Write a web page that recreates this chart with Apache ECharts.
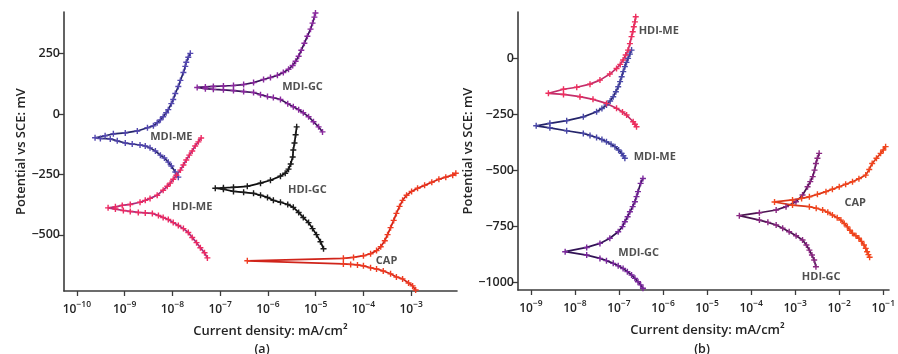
<!DOCTYPE html>
<html>
<head>
<meta charset="utf-8">
<script src="https://cdn.jsdelivr.net/npm/echarts@6/dist/echarts.min.js"></script>
<style>
  html, body { margin: 0; padding: 0; background: #fff; }
  #chart { width: 898px; height: 354px; }
</style>
</head>
<body>
<div id="chart"></div>
<script>
// Potentiodynamic polarization (Tafel) curves: potential (mV vs SCE) against current density (mA/cm²).
// Every curve runs from the end of its cathodic branch, through Ecorr, to the end of its anodic branch.

// Axis ticks
const decadesA = [-10, -9, -8, -7, -6, -5, -4, -3];
const decadesB = [-9, -8, -7, -6, -5, -4, -3, -2, -1];
const potentialTicksA = [250, 0, -250, -500];
const potentialTicksB = [0, -250, -500, -750, -1000];

// ---------- Panel (a) ----------
const aMdiMeCurrent = [1.33e-8, 1.15e-8, 9.5e-9, 8.2e-9, 6.8e-9, 5.6e-9, 4.4e-9, 3.4e-9, 2.7e-9, 2.1e-9, 1.44e-9, 1.03e-9, 7.0e-10, 5.0e-10, 3.1e-10, 2.4e-10,
  3.9e-10, 5.8e-10, 1.03e-9, 1.84e-9, 3.0e-9, 4.0e-9, 4.8e-9, 5.6e-9, 6.4e-9, 7.4e-9, 8.2e-9, 9.5e-9, 1.04e-8, 1.15e-8, 1.33e-8, 1.47e-8, 1.7e-8, 1.86e-8, 1.95e-8, 2.15e-8, 2.37e-8];
const aMdiMePotential = [-261, -240, -215, -199, -182, -170, -153, -140, -132, -128, -124, -120, -111, -103, -101, -98,
  -90, -82, -78, -70, -57, -49, -36, -24, -11, 5, 18, 43, 60, 85, 114, 139, 172, 197, 214, 235, 251];

const aHdiMeCurrent = [5.4e-8, 4.7e-8, 3.85e-8, 3.2e-8, 2.6e-8, 2.15e-8, 1.7e-8, 1.33e-8, 1.04e-8, 8.2e-9, 6.4e-9, 5.1e-9, 3.8e-9, 2.7e-9, 1.93e-9, 1.31e-9, 9.4e-10, 6.4e-10, 4.5e-10,
  6.4e-10, 8.9e-10, 1.31e-9, 2.1e-9, 2.7e-9, 3.4e-9, 4.8e-9, 6.4e-9, 7.8e-9, 9.0e-9, 1.04e-8, 1.21e-8, 1.47e-8, 1.7e-8, 1.95e-8, 2.26e-8, 2.6e-8, 3.0e-8, 3.5e-8, 4.0e-8];
const aHdiMePotential = [-595, -574, -553, -532, -511, -490, -474, -461, -449, -436, -428, -420, -411, -409, -407, -403, -399, -393, -388,
  -384, -378, -374, -365, -357, -349, -336, -315, -299, -286, -270, -253, -232, -211, -190, -170, -153, -132, -115, -99];

const aMdiGcCurrent = [1.39e-5, 1.15e-5, 9.0e-6, 7.1e-6, 5.5e-6, 4.4e-6, 3.4e-6, 2.6e-6, 1.83e-6, 1.3e-6, 9.8e-7, 7.0e-7, 5.0e-7, 3.1e-7, 1.9e-7, 1.17e-7, 7.2e-8, 4.9e-8, 3.3e-8,
  4.9e-8, 7.2e-8, 1.17e-7, 1.9e-7, 3.1e-7, 5.0e-7, 8.1e-7, 1.13e-6, 1.58e-6, 2.1e-6, 2.7e-6, 3.3e-6, 3.8e-6, 4.4e-6, 5.0e-6, 5.8e-6, 6.7e-6, 7.8e-6, 8.6e-6, 9.4e-6, 9.9e-6];
const aMdiGcPotential = [-74, -53, -32, -11, 5, 18, 30, 43, 60, 68, 72, 80, 89, 93, 97, 100, 102, 105, 110,
  112, 114, 116, 118, 122, 130, 143, 151, 160, 172, 185, 201, 218, 239, 264, 293, 322, 351, 376, 401, 418];

const aHdiGcCurrent = [1.46e-5, 1.26e-5, 1.04e-5, 8.6e-6, 7.1e-6, 5.5e-6, 4.4e-6, 3.4e-6, 2.6e-6, 1.83e-6, 1.3e-6, 9.8e-7, 7.0e-7, 5.0e-7, 3.1e-7, 1.9e-7, 1.17e-7, 7.9e-8,
  1.17e-7, 1.9e-7, 3.7e-7, 7.0e-7, 1.13e-6, 1.83e-6, 2.3e-6, 2.7e-6, 3.0e-6, 3.3e-6, 3.4e-6, 3.6e-6, 3.8e-6, 4.0e-6];
const aHdiGcPotential = [-557, -528, -499, -474, -449, -428, -407, -386, -374, -365, -357, -345, -336, -328, -324, -320, -311, -307,
  -305, -303, -299, -286, -274, -257, -245, -228, -207, -178, -149, -120, -86, -53];

const aCapCurrent = [1.24e-3, 1.07e-3, 8.8e-4, 6.6e-4, 4.9e-4, 3.7e-4, 2.6e-4, 1.88e-4, 1.41e-4, 1.0e-4, 7.5e-5, 5.4e-5, 3.8e-5, 3.7e-7,
  3.8e-5, 6.2e-5, 1.0e-4, 1.41e-4, 1.88e-4, 2.3e-4, 2.8e-4, 3.2e-4, 3.7e-4, 4.3e-4, 4.9e-4, 5.7e-4, 6.6e-4, 8.0e-4, 1.02e-3, 1.36e-3, 1.91e-3, 2.7e-3, 3.8e-3, 5.3e-3, 7.4e-3, 8.6e-3];
const aCapPotential = [-728, -711, -699, -682, -674, -661, -649, -641, -636, -628, -624, -622, -620, -607,
  -597, -593, -586, -578, -565, -549, -524, -499, -470, -440, -411, -382, -357, -336, -320, -307, -295, -282, -270, -261, -253, -245];

const aLabelNames = ['MDI-ME', 'MDI-GC', 'HDI-GC', 'HDI-ME', 'CAP'];
const aLabelCurrent = [9.5e-9, 5.3e-6, 6.7e-6, 2.6e-8, 3.05e-4];
const aLabelPotential = [-95, 114, -315, -386, -607];

// ---------- Panel (b) ----------
const bHdiMeCurrent = [2.5e-7, 2.3e-7, 2.1e-7, 1.49e-7, 1.2e-7, 8.8e-8, 5.2e-8, 2.57e-8, 1.3e-8, 5.5e-9, 2.5e-9,
  5.5e-9, 1.1e-8, 2.2e-8, 3.7e-8, 6.2e-8, 8.8e-8, 1.07e-7, 1.24e-7, 1.42e-7, 1.61e-7, 1.77e-7, 1.93e-7, 2.05e-7, 2.17e-7, 2.3e-7, 2.4e-7];
const bHdiMePotential = [-306, -295, -284, -254, -240, -224, -202, -184, -172, -162, -157,
  -139, -130, -116, -98, -71, -46, -28, -8, 14, 36, 65, 96, 118, 140, 162, 185];

const bMdiMeCurrent = [1.36e-7, 1.26e-7, 1.15e-7, 9.8e-8, 8.1e-8, 6.6e-8, 5.2e-8, 4.1e-8, 3.1e-8, 2.2e-8, 1.55e-8, 6.5e-9, 2.7e-9, 1.32e-9,
  2.7e-9, 6.5e-9, 1.55e-8, 3.1e-8, 4.1e-8, 5.2e-8, 6.3e-8, 7.4e-8, 8.5e-8, 9.6e-8, 1.06e-7, 1.15e-7, 1.25e-7, 1.36e-7, 1.48e-7, 1.61e-7, 1.77e-7, 1.93e-7];
const bMdiMePotential = [-447, -436, -425, -410, -395, -384, -373, -363, -354, -345, -336, -324, -311, -302,
  -291, -279, -262, -239, -225, -209, -191, -172, -150, -128, -105, -83, -60, -38, -19, -1, 18, 36];

const bMdiGcCurrent = [3.5e-7, 3.1e-7, 2.7e-7, 2.3e-7, 1.93e-7, 1.55e-7, 1.24e-7, 9.6e-8, 7.4e-8, 5.2e-8, 3.7e-8, 1.85e-8, 6.0e-9,
  1.85e-8, 3.7e-8, 6.2e-8, 9.6e-8, 1.2e-7, 1.36e-7, 1.57e-7, 1.77e-7, 2.05e-7, 2.3e-7, 2.5e-7, 2.7e-7, 3.1e-7, 3.5e-7];
const bMdiGcPotential = [-1027, -1012, -998, -983, -968, -953, -939, -927, -916, -904, -894, -879, -864,
  -845, -827, -804, -775, -752, -730, -708, -686, -663, -641, -618, -596, -559, -537];

const bHdiGcCurrent = [2.96e-3, 2.7e-3, 2.4e-3, 2.1e-3, 1.8e-3, 1.47e-3, 1.05e-3, 7.3e-4, 5.2e-4, 3.7e-4, 2.4e-4, 1.54e-4, 5.4e-5,
  1.54e-4, 3.7e-4, 6.2e-4, 1.04e-3, 1.47e-3, 1.91e-3, 2.2e-3, 2.5e-3, 2.75e-3, 2.96e-3, 3.2e-3, 3.5e-3];
const bHdiGcPotential = [-931, -901, -879, -857, -834, -812, -793, -775, -759, -745, -733, -723, -703,
  -690, -678, -663, -641, -611, -574, -551, -529, -500, -470, -447, -425];

const bCapCurrent = [4.9e-2, 4.6e-2, 4.3e-2, 4.0e-2, 3.65e-2, 3.2e-2, 2.8e-2, 2.4e-2, 2.0e-2, 1.75e-2, 1.53e-2, 1.3e-2, 1.09e-2, 9.0e-3, 7.0e-3, 5.5e-3, 4.2e-3, 3.0e-3, 2.1e-3, 8.7e-4, 3.4e-4,
  8.7e-4, 1.4e-3, 2.1e-3, 3.2e-3, 5.0e-3, 7.0e-3, 1.0e-2, 1.4e-2, 2.0e-2, 2.8e-2, 4.0e-2, 4.8e-2, 5.6e-2, 7.0e-2, 8.7e-2, 1.0e-1, 0.113];
const bCapPotential = [-889, -877, -864, -849, -834, -818, -804, -793, -782, -768, -753, -738, -723, -712, -700, -688, -678, -670, -663, -656, -642,
  -633, -626, -619, -608, -596, -585, -574, -563, -552, -538, -522, -497, -470, -447, -425, -410, -395];

const bLabelNames = ['HDI-ME', 'MDI-ME', 'MDI-GC', 'HDI-GC', 'CAP'];
const bLabelCurrent = [8.0e-7, 6.5e-7, 2.8e-7, 3.9e-3, 2.3e-2];
const bLabelPotential = [121, -441, -870, -977, -647];

// ---------- Chart ----------
const FONT = '"Open Sans", "DejaVu Sans", sans-serif';
const AXIS_COLOR = '#3c3c3c';
const TEXT_COLOR = '#242424';
const TICK_MARK = 'path://M0,3H6M3,0V6';

const pairs = (cur, pot) => cur.map((c, i) => [c, pot[i]]);
const minus = v => (v < 0 ? '\u2212' + (-v) : String(v));

function curve(name, cur, pot, panel, lineColor, markColor) {
  return {
    type: 'line', name,
    xAxisIndex: panel, yAxisIndex: panel,
    data: pairs(cur, pot),
    symbol: TICK_MARK, symbolSize: 6, showSymbol: true, showAllSymbol: true,
    lineStyle: { color: lineColor, width: 1.7 },
    itemStyle: { color: 'rgba(0,0,0,0)', borderColor: markColor, borderWidth: 1.4 },
    emphasis: { disabled: true },
    silent: true, animation: false
  };
}

function curveLabels(names, cur, pot, panel) {
  return {
    type: 'scatter', xAxisIndex: panel, yAxisIndex: panel,
    symbolSize: 0, silent: true, animation: false, z: 5,
    data: names.map((n, i) => ({ name: n, value: [cur[i], pot[i]] })),
    label: {
      show: true, position: 'inside', formatter: '{b}',
      fontFamily: FONT, fontSize: 11, fontWeight: 'bold', color: TEXT_COLOR
    }
  };
}

function currentAxis(panel, min, max, decades, padLeft) {
  const vals = decades.map(e => Math.pow(10, e));
  return {
    type: 'log', logBase: 10, gridIndex: panel, min, max,
    axisLine: { show: true, onZero: false, lineStyle: { color: AXIS_COLOR, width: 1.6 } },
    axisTick: { show: true, customValues: vals, length: 5, lineStyle: { color: AXIS_COLOR, width: 1.3 } },
    splitLine: { show: false },
    minorTick: { show: false },
    axisLabel: {
      customValues: vals, margin: 9,
      formatter: v => '{b|10}{s|' + minus(Math.round(Math.log10(v))) + '}',
      rich: {
        b: { fontFamily: FONT, fontSize: 12, fontWeight: 600, color: TEXT_COLOR, lineHeight: 16, verticalAlign: 'bottom' },
        s: { fontFamily: FONT, fontSize: 8.5, fontWeight: 600, color: TEXT_COLOR, lineHeight: 16, verticalAlign: 'top' }
      }
    },
    name: 'Current density: mA/cm\u00B2', nameLocation: 'middle', nameGap: 34,
    nameTextStyle: { fontFamily: FONT, fontSize: 13, fontWeight: 600, color: TEXT_COLOR, padding: [0, 0, 0, padLeft] }
  };
}

function potentialAxis(panel, min, max, ticks, gap) {
  return {
    type: 'value', gridIndex: panel, min, max,
    axisLine: { show: true, onZero: false, lineStyle: { color: AXIS_COLOR, width: 1.6 } },
    axisTick: { show: true, customValues: ticks, length: 5, lineStyle: { color: AXIS_COLOR, width: 1.3 } },
    splitLine: { show: false },
    axisLabel: {
      customValues: ticks, margin: 4, formatter: minus,
      fontFamily: FONT, fontSize: 12.5, fontWeight: 600, color: TEXT_COLOR
    },
    name: 'Potential vs SCE: mV', nameLocation: 'middle', nameRotate: 90, nameGap: gap,
    nameTextStyle: { fontFamily: FONT, fontSize: 13, fontWeight: 600, color: TEXT_COLOR }
  };
}

const chart = echarts.init(document.getElementById('chart'), null, { renderer: 'canvas' });
chart.setOption({
  backgroundColor: '#ffffff',
  animation: false,
  grid: [
    { left: 64, top: 12, width: 393, height: 279 },
    { left: 518, top: 12, width: 372, height: 278 }
  ],
  xAxis: [
    currentAxis(0, 5.37e-11, 9.1e-3, decadesA, 20),
    currentAxis(1, 5.1e-10, 0.135, decadesB, 8)
  ],
  yAxis: [
    potentialAxis(0, -732, 422, potentialTicksA, 36),
    potentialAxis(1, -1035, 206, potentialTicksB, 40)
  ],
  graphic: [
    { type: 'text', x: 262, y: 349, style: { text: '(a)', align: 'center', verticalAlign: 'middle', font: '600 12.5px ' + FONT, fill: TEXT_COLOR } },
    { type: 'text', x: 702, y: 349, style: { text: '(b)', align: 'center', verticalAlign: 'middle', font: '600 12.5px ' + FONT, fill: TEXT_COLOR } }
  ],
  series: [
    curve('MDI-ME', aMdiMeCurrent, aMdiMePotential, 0, '#24246a', '#5448b0'),
    curve('HDI-ME', aHdiMeCurrent, aHdiMePotential, 0, '#a82c7c', '#ee2a62'),
    curve('MDI-GC', aMdiGcCurrent, aMdiGcPotential, 0, '#3c145a', '#8a289e'),
    curve('HDI-GC', aHdiGcCurrent, aHdiGcPotential, 0, '#0e0e0e', '#1c1c1c'),
    curve('CAP', aCapCurrent, aCapPotential, 0, '#d0241a', '#f03c22'),
    curveLabels(aLabelNames, aLabelCurrent, aLabelPotential, 0),

    curve('MDI-ME', bMdiMeCurrent, bMdiMePotential, 1, '#24246a', '#4a48a8'),
    curve('HDI-ME', bHdiMeCurrent, bHdiMePotential, 1, '#c42e6a', '#ee2f5e'),
    curve('MDI-GC', bMdiGcCurrent, bMdiGcPotential, 1, '#321356', '#7a289c'),
    curve('HDI-GC', bHdiGcCurrent, bHdiGcPotential, 1, '#4a1450', '#8a2882'),
    curve('CAP', bCapCurrent, bCapPotential, 1, '#da381a', '#f2461e'),
    curveLabels(bLabelNames, bLabelCurrent, bLabelPotential, 1)
  ]
});
</script>
</body>
</html>
